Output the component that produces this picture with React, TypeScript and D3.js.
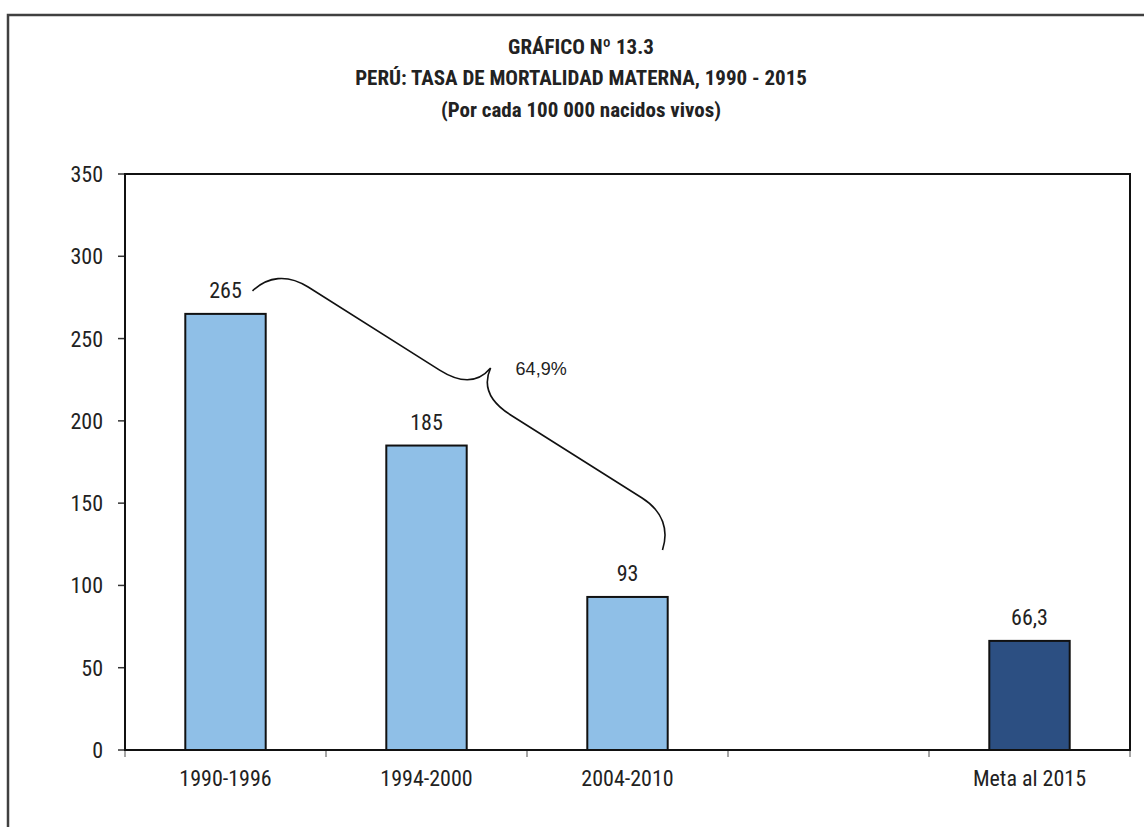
import React from "react";
import * as d3 from "d3";

const categories = ["1990-1996", "1994-2000", "2004-2010", " ", "Meta al 2015"];
const values: (number | null)[] = [265, 185, 93, null, 66.3];
const valueLabels = ["265", "185", "93", "", "66,3"];
const barColors = ["#8FBFE7", "#8FBFE7", "#8FBFE7", "#8FBFE7", "#2C4F82"];
const yTicks = [0, 50, 100, 150, 200, 250, 300, 350];
const titleLines = [
  "GRÁFICO Nº 13.3",
  "PERÚ: TASA DE MORTALIDAD MATERNA, 1990 - 2015",
  "(Por cada 100 000 nacidos vivos)",
];
const braceLabel = "64,9%";

const W = 1144;
const H = 827;
const plot = { left: 125, right: 1130, top: 174, bottom: 750 };
const narrow = "'Liberation Sans Narrow', 'Arial Narrow', 'Roboto Condensed', 'Liberation Sans', sans-serif";

export default function App() {
  const x = d3.scaleBand<string>().domain(categories).range([plot.left, plot.right]).paddingInner(0).paddingOuter(0);
  const y = d3.scaleLinear().domain([0, 350]).range([plot.bottom, plot.top]);
  const bw = x.bandwidth();
  const barW = bw * 0.4;
  const cx = (i: number) => (x(categories[i]) as number) + bw / 2;

  // brace between label of first bar and label of third bar
  const p1 = [cx(0) + 27, y(values[0] as number) - 23];
  const p2 = [cx(2) + 35, y(values[2] as number) - 47];
  const dx = p2[0] - p1[0];
  const dy = p2[1] - p1[1];
  const L = Math.hypot(dx, dy);
  const e = [dx / L, dy / L];
  const n = [e[1], -e[0]];
  const pt = (u: number, v: number) => [p1[0] + e[0] * u + n[0] * v, p1[1] + e[1] * u + n[1] * v];
  const h = 33;
  const Wd = 62;
  const M = L / 2;
  const path = d3.path();
  const mv = (u: number, v: number) => { const p = pt(u, v); path.moveTo(p[0], p[1]); };
  const ln = (u: number, v: number) => { const p = pt(u, v); path.lineTo(p[0], p[1]); };
  const cb = (a: number[], b: number[], c: number[]) => {
    const A = pt(a[0], a[1]); const B = pt(b[0], b[1]); const C = pt(c[0], c[1]);
    path.bezierCurveTo(A[0], A[1], B[0], B[1], C[0], C[1]);
  };
  mv(0, 0);
  cb([5, 20], [20, h], [45, h]);
  ln(M - 42, h);
  cb([M - 20, h], [M - 3, 40], [M, Wd]);
  cb([M + 3, 40], [M + 20, h], [M + 42, h]);
  ln(L - 45, h);
  cb([L - 20, h], [L - 5, 20], [L, 0]);
  const cusp = pt(M, Wd);

  return (
    <svg width={W} height={H} style={{ position: "absolute", left: 0, top: 0, background: "#fff" }}>
      <rect x={8} y={15} width={W + 20} height={H + 20} fill="#fff" stroke="#404040" strokeWidth={2.5} />
      <g fontFamily={narrow} fontWeight="bold" fontSize={21} fill="#222" textAnchor="middle">
        {titleLines.map((t, i) => (
          <text key={i} x={581} y={53.5 + i * 31.5}>{t}</text>
        ))}
      </g>
      {/* y ticks and labels */}
      <g fontFamily={narrow} fontSize={22} fill="#222">
        {yTicks.map((t) => (
          <g key={t}>
            <line x1={plot.left - 7} x2={plot.left} y1={y(t)} y2={y(t)} stroke="#333" strokeWidth={1.5} />
            <text x={103} y={y(t) + 8} textAnchor="end">{t}</text>
          </g>
        ))}
      </g>
      {/* x ticks */}
      {[...categories.map((c) => x(c) as number), plot.right].map((v, i) => (
        <line key={i} x1={v} x2={v} y1={plot.bottom} y2={plot.bottom + 7} stroke="#888" strokeWidth={1.5} />
      ))}
      {/* bars */}
      {categories.map((c, i) =>
        values[i] == null ? null : (
          <rect key={c} x={(x(c) as number) + (bw - barW) / 2} y={y(values[i] as number)} width={barW}
            height={plot.bottom - y(values[i] as number)} fill={barColors[i]} stroke="#111" strokeWidth={2} />
        )
      )}
      {/* plot frame */}
      <rect x={plot.left} y={plot.top} width={plot.right - plot.left} height={plot.bottom - plot.top} fill="none" stroke="#111" strokeWidth={2} />
      {/* value labels */}
      <g fontFamily={narrow} fontSize={22} fill="#222" textAnchor="middle">
        {categories.map((c, i) =>
          values[i] == null ? null : (
            <text key={c} x={cx(i)} y={y(values[i] as number) - 16}>{valueLabels[i]}</text>
          )
        )}
        {categories.map((c, i) => (
          <text key={"x" + i} x={cx(i)} y={786}>{c.trim()}</text>
        ))}
      </g>
      {/* brace */}
      <path d={path.toString()} fill="none" stroke="#111" strokeWidth={1.6} />
      <text x={cusp[0] + 25} y={cusp[1] + 7} fontFamily="'Liberation Sans', Arial, sans-serif" fontSize={18} fill="#222">{braceLabel}</text>
    </svg>
  );
}
